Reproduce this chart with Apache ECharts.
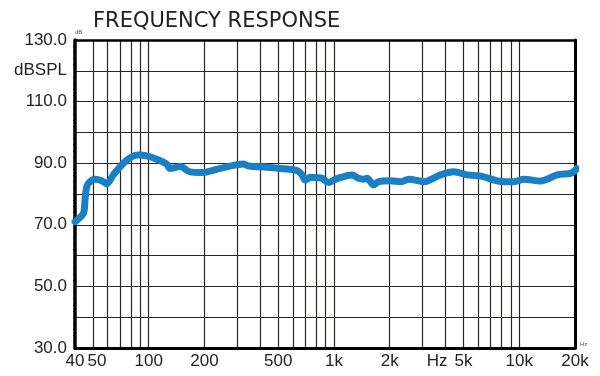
<!DOCTYPE html>
<html>
<head>
<meta charset="utf-8">
<title>Frequency Response</title>
<script src="https://cdn.jsdelivr.net/npm/echarts@6/dist/echarts.min.js"></script>
<style>
  html, body { margin: 0; padding: 0; background: #fff; }
  #chart { width: 600px; height: 376px; }
</style>
</head>
<body>
<div id="chart"></div>
<script>
// measured curve, Hz / dB SPL
var freqHz = [40, 44.4, 45.3, 46.3, 48.2, 51.3, 55.8, 59.3, 64.4, 73, 81, 88, 97.6, 110.6, 125, 130.5, 148, 167, 194,
  243, 325, 346, 435, 558, 631, 672, 700, 745, 810, 863, 936, 1030, 1253, 1358, 1445, 1509, 1637, 1743, 2018, 2286,
  2536, 3055, 3760, 4436, 5240, 6180, 8260, 9355, 10600, 13050, 16060, 18960, 20000, 20400];
var splDb = [71, 73.7, 78.1, 82.4, 84.0, 84.8, 84.3, 83.3, 86.2, 90.0, 92.1, 92.7, 92.4, 91.3, 89.7, 88.3, 88.9, 87.2, 87.0,
  88.3, 89.7, 89.1, 88.7, 88.1, 87.6, 86.2, 84.5, 85.4, 85.3, 85.1, 83.7, 84.9, 86.2, 85.1, 84.8, 85.1, 82.9, 84.0, 84.3, 84.0,
  84.8, 84.0, 86.2, 87.2, 86.2, 85.8, 84.0, 84.0, 84.8, 84.2, 86.2, 86.7, 87.6, 88.3];

// grid lines and labels
var gridHz = [50, 60, 70, 80, 90, 100, 200, 300, 400, 500, 600, 700, 800, 900, 1000,
  2000, 3000, 4000, 5000, 6000, 7000, 8000, 9000, 10000];
var labelHz = [40, 50, 100, 200, 500, 1000, 2000, 3600, 5000, 10000, 20000];
var labelDb = [30, 50, 70, 90, 110, 120, 130];

var lg = function (v) { return Math.log10(v); };

var myChart = echarts.init(document.getElementById('chart'));

var lineData = freqHz.map(function (f, i) { return [lg(f), splDb[i]]; });

var option = {
  backgroundColor: '#fff',
  animation: false,
  title: {
    text: 'FREQUENCY RESPONSE',
    left: 88,
    top: 6,
    textStyle: { fontFamily: 'DejaVu Sans', fontSize: 21, fontWeight: 'normal', color: '#222' }
  },
  grid: { left: 75, right: 25, top: 40, bottom: 28 },
  xAxis: [
    {
      type: 'value',
      min: lg(40),
      max: lg(20000),
      axisLine: { show: true, lineStyle: { color: '#000', width: 3 } },
      axisTick: { show: false, customValues: gridHz.map(lg) },
      splitLine: { show: true, lineStyle: { color: '#2b2624', width: 1.2 } },
      axisLabel: {
        customValues: labelHz.map(lg),
        margin: 5,
        fontFamily: 'Liberation Sans',
        fontSize: 17,
        color: '#222',
        formatter: function (v) {
          var f = Math.round(Math.pow(10, v));
          if (f === 3600) return 'Hz';
          if (f === 50) return '{s|50}';
          if (f >= 1000) return (f / 1000) + 'k';
          return String(f);
        },
        rich: { s: { fontFamily: 'Liberation Sans', fontSize: 17, color: '#222', padding: [0, 0, 0, 8] } }
      }
    },
    {
      type: 'value',
      position: 'top',
      min: lg(40),
      max: lg(20000),
      axisLine: { show: true, lineStyle: { color: '#000', width: 2.5 } },
      axisTick: { show: false },
      axisLabel: { show: false },
      splitLine: { show: false }
    }
  ],
  yAxis: [
    {
      type: 'value',
      min: 30,
      max: 130,
      interval: 10,
      axisLine: { show: true, lineStyle: { color: '#000', width: 3.5 } },
      axisTick: { show: false },
      minorTick: { show: true, splitNumber: 5, length: 2, lineStyle: { color: '#000', width: 1 } },
      splitLine: { show: true, lineStyle: { color: '#2b2624', width: 1.2 } },
      axisLabel: {
        customValues: labelDb,
        margin: 8,
        fontFamily: 'Liberation Sans',
        fontSize: 17,
        color: '#222',
        formatter: function (v) {
          if (v === 120) return 'dBSPL';
          return v.toFixed(1);
        }
      }
    },
    {
      type: 'value',
      position: 'right',
      min: 30,
      max: 130,
      interval: 10,
      axisLine: { show: true, lineStyle: { color: '#000', width: 3 } },
      axisTick: { show: false },
      minorTick: { show: true, splitNumber: 5, length: 2, lineStyle: { color: '#000', width: 1 } },
      axisLabel: { show: false },
      splitLine: { show: false }
    }
  ],
  graphic: [
    { type: 'text', left: 75, top: 29, style: { text: 'dB', fontSize: 6, fill: '#555', fontFamily: 'Liberation Sans' } },
    { type: 'text', left: 580, top: 341, style: { text: 'Hz', fontSize: 6, fill: '#555', fontFamily: 'Liberation Sans' } }
  ],
  series: [
    {
      type: 'line',
      data: lineData,
      smooth: 0.3,
      showSymbol: false,
      clip: false,
      lineStyle: { color: '#1a7fc4', width: 7, cap: 'round', join: 'round' },
      z: 5
    }
  ]
};

myChart.setOption(option);
</script>
</body>
</html>
